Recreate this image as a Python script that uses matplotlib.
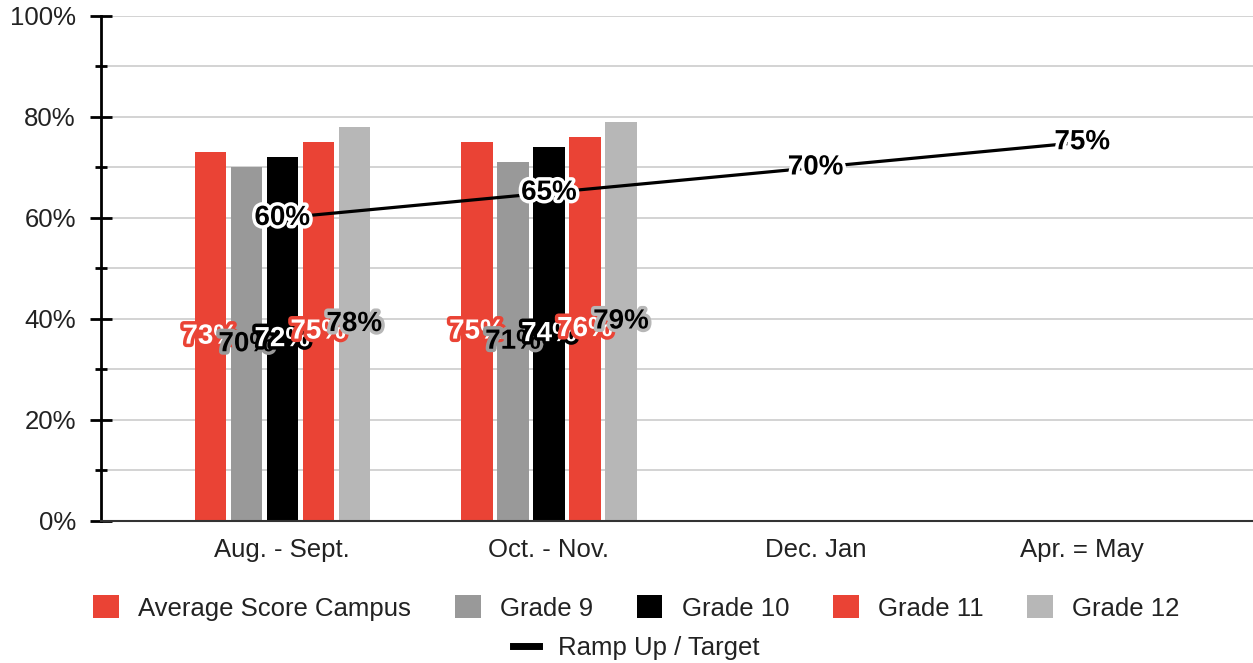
import numpy as np
import matplotlib.pyplot as plt
import matplotlib.patheffects as pe
from matplotlib.patches import Patch
from matplotlib.lines import Line2D

plt.rcParams['font.family'] = ['Liberation Sans', 'DejaVu Sans']

# data
periods = ['Aug. - Sept.', 'Oct. - Nov.', 'Dec. Jan', 'Apr. = May']
series = ['Average Score Campus', 'Grade 9', 'Grade 10', 'Grade 11', 'Grade 12']
avg_campus = [73, 75]
grade_9 = [70, 71]
grade_10 = [72, 74]
grade_11 = [75, 76]
grade_12 = [78, 79]
ramp_up = [60, 65, 70, 75]

colors = ['#ea4335', '#999999', '#000000', '#ea4335', '#b7b7b7']
text_fill = ['white', 'black', 'white', 'white', 'black']

fig = plt.figure(figsize=(12.53, 6.63), dpi=100)
ax = fig.add_axes([0.0806, 0.2142, 0.9194, 0.7617])

x = np.arange(len(periods))
step = 0.135
width = 0.117
all_vals = [avg_campus, grade_9, grade_10, grade_11, grade_12]
for i, vals in enumerate(all_vals):
    xs = x[:len(vals)] + (i - 2) * step
    ax.bar(xs, vals, width=width, color=colors[i], zorder=2)
    for xx, v in zip(xs, vals):
        ax.text(xx, v / 2, f'{v}%', ha='center', va='center',
                fontsize=20, fontweight='bold', color=text_fill[i], zorder=4,
                path_effects=[pe.withStroke(linewidth=5, foreground=colors[i])])

ax.plot(x, ramp_up, color='black', lw=2.3, zorder=3)
for xx, v in zip(x, ramp_up):
    ax.text(xx, v, f'{v}%', ha='center', va='center', fontsize=20,
            fontweight='bold', color='black', zorder=5,
            path_effects=[pe.withStroke(linewidth=5, foreground='white')])

ax.set_xlim(-0.68, 3.64)
ax.set_ylim(0, 100)
ax.set_yticks(np.arange(0, 101, 20))
ax.set_yticks(np.arange(10, 100, 20), minor=True)
ax.set_yticklabels([f'{t}%' for t in range(0, 101, 20)], fontsize=18.5, color='#222222')
ax.set_xticks(x)
ax.set_xticklabels(periods, fontsize=18.5, color='#222222')
ax.tick_params(axis='x', length=0, pad=12)
ax.tick_params(axis='y', which='major', direction='inout', length=16, width=2, pad=10)
ax.tick_params(axis='y', which='minor', direction='inout', length=8, width=2)
for t in np.arange(10, 101, 10):
    ax.axhline(t, color='#cccccc', lw=1.2, zorder=0)

for s in ['top', 'right']:
    ax.spines[s].set_visible(False)
ax.spines['left'].set_linewidth(2)
ax.spines['bottom'].set_color('#333333')
ax.spines['bottom'].set_linewidth(1.5)

handles = [Patch(facecolor=c) for c in colors]
fig.legend(handles, series, loc='center', bbox_to_anchor=(0.508, 0.083),
           ncol=5, frameon=False, fontsize=18.5, handlelength=1.0,
           handleheight=1.0, columnspacing=1.7, handletextpad=0.75,
           labelcolor='#222222')
fig.legend([Line2D([0], [0], color='black', lw=5)], ['Ramp Up / Target'],
           loc='center', bbox_to_anchor=(0.508, 0.022), frameon=False,
           fontsize=18.5, handlelength=1.0, handletextpad=0.75, labelcolor='#222222')

fig.savefig('out.png', dpi=100)
